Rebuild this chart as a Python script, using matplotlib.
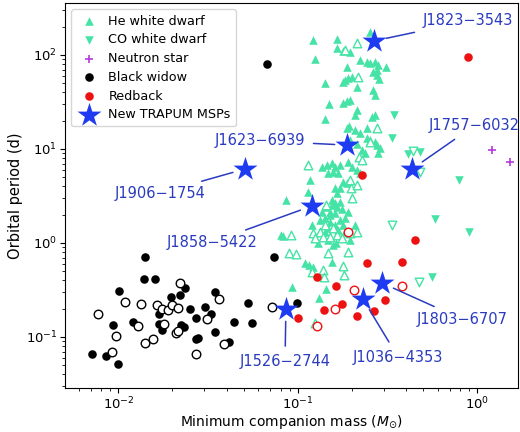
import matplotlib

matplotlib.use("Agg")
import matplotlib.pyplot as plt

# Companion mass (Msun) and orbital period (d)
he_wd_mass = [0.121, 0.165, 0.165, 0.178, 0.195, 0.252, 0.124, 0.222, 0.242, 0.252,
              0.269, 0.279, 0.309, 0.188, 0.276, 0.262, 0.276, 0.283, 0.183, 0.178,
              0.190, 0.200, 0.213, 0.141, 0.262, 0.269, 0.178, 0.188, 0.195, 0.149,
              0.213, 0.208, 0.258, 0.269, 0.141, 0.192, 0.188, 0.208, 0.242,
              0.222, 0.242, 0.252, 0.269, 0.276, 0.286, 0.279, 0.227, 0.236, 0.213,
              0.195, 0.136, 0.145, 0.155, 0.161, 0.171, 0.190, 0.200, 0.147, 0.157,
              0.167, 0.213, 0.222, 0.117, 0.178, 0.188, 0.161, 0.165, 0.171, 0.114,
              0.0857, 0.155, 0.161, 0.171, 0.141,
              0.120, 0.133, 0.141, 0.151, 0.161, 0.165, 0.176, 0.155, 0.171, 0.178,
              0.161, 0.147, 0.141, 0.167, 0.183, 0.151, 0.0804, 0.0825, 0.109, 0.115,
              0.121, 0.155, 0.093, 0.143, 0.131,
              0.151, 0.183, 0.147, 0.163, 0.195, 0.129, 0.208, 0.136, 0.190, 0.157]
he_wd_pb = [145, 148, 119, 110, 108, 176, 91, 88, 84, 82,
            84, 78, 75, 75, 69, 66, 61, 56, 54, 52,
            57, 58, 46, 50, 42, 37.5, 31, 32, 33, 30,
            26, 23, 22, 23, 21, 17.6, 16.7, 15.9, 16.7,
            14.8, 13.1, 12.5, 11.9, 11.0, 10.3, 9.1, 9.8, 9.1, 11.3,
            12.5, 6.4, 6.8, 7.1, 6.4, 6.8, 7.3, 6.4, 5.55, 5.7,
            5.55, 6.0, 5.55, 4.7, 4.46, 4.35, 3.85, 3.4, 3.85, 3.5,
            2.87, 2.87, 2.66, 2.73, 2.42,
            1.55, 1.76, 1.85, 1.99, 2.1, 2.42, 2.30, 2.54, 1.76, 1.55,
            1.55, 1.44, 1.31, 1.37, 1.31, 1.67, 1.22, 1.19, 0.613, 0.583,
            0.556, 0.628, 0.34, 0.324, 0.26,
            2.14, 1.85, 1.08, 1.0, 1.08, 1.0, 1.55, 2.14, 2.14, 0.953]

he_wd_open_mass = [0.183, 0.213, 0.216, 0.276, 0.252, 0.219, 0.227, 0.114, 0.195, 0.197,
                   0.213, 0.200, 0.143, 0.091, 0.089, 0.0975, 0.121, 0.133, 0.138, 0.151,
                   0.165, 0.176, 0.195, 0.213, 0.147, 0.190, 0.120, 0.138, 0.140, 0.178,
                   0.180, 0.124, 0.141, 0.157, 0.124]
he_wd_open_pb = [113, 134, 58, 16.7, 11.9, 8.2, 7.6, 6.8, 4.7, 3.85,
                 4.14, 3.0, 2.54, 1.22, 0.78, 0.764, 1.28, 1.31, 1.16, 1.16,
                 1.22, 1.13, 1.28, 1.31, 0.78, 0.80, 0.49, 0.516, 0.435, 0.57,
                 0.457, 0.141, 1.55, 1.44, 1.13]

co_wd_mass = [0.345, 0.332, 0.408, 0.481, 0.794, 0.583, 0.902, 0.561]
co_wd_pb = [23.0, 13.1, 8.85, 9.29, 4.68, 1.80, 1.31, 0.435]
co_wd_open_mass = [0.440, 0.481, 0.336, 0.475]
co_wd_open_pb = [9.53, 5.69, 1.55, 0.385]

ns_mass = [1.20, 1.51]
ns_pb = [9.76, 7.27]

bw_mass = [0.0141, 0.0138, 0.0159, 0.0101, 0.0236, 0.0221, 0.0197, 0.0343, 0.0249, 0.0305,
           0.0326, 0.0272, 0.0169, 0.0169, 0.0176, 0.0224, 0.0233, 0.0121, 0.00938, 0.0530,
           0.0443, 0.0558, 0.0343, 0.0272, 0.0279, 0.0415, 0.00716, 0.00857, 0.0100, 0.0740,
           0.0994, 0.0676]
bw_pb = [0.71, 0.414, 0.414, 0.308, 0.332, 0.280, 0.267, 0.301, 0.199, 0.209,
         0.176, 0.159, 0.176, 0.138, 0.119, 0.134, 0.128, 0.144, 0.134, 0.230,
         0.144, 0.141, 0.113, 0.0953, 0.0976, 0.0885, 0.0659, 0.0628, 0.0516, 0.710,
         0.230, 80.0]
bw_open_mass = [0.00774, 0.0109, 0.0134, 0.0165, 0.0176, 0.0190, 0.0200, 0.0216, 0.0221, 0.0361,
                0.0128, 0.0180, 0.0208, 0.0216, 0.00975, 0.00926, 0.0140, 0.0155, 0.0313, 0.0385,
                0.0269, 0.0721]
bw_open_pb = [0.176, 0.236, 0.224, 0.219, 0.199, 0.194, 0.219, 0.204, 0.375, 0.254,
              0.131, 0.138, 0.110, 0.116, 0.1025, 0.0692, 0.0863, 0.0953, 0.155, 0.0843,
              0.0659, 0.209]

rb_mass = [0.446, 0.241, 0.378, 0.128, 0.162, 0.307, 0.175, 0.139, 0.214, 0.264, 0.1006, 0.891, 0.226]
rb_pb = [1.08, 0.613, 0.628, 0.435, 0.349, 0.248, 0.224, 0.194, 0.167, 0.189, 0.159, 95.0, 5.3]
rb_open_mass = [0.189, 0.204, 0.160, 0.378, 0.128]
rb_open_pb = [1.31, 0.316, 0.199, 0.349, 0.13]

new_names = ["J1823−3543", "J1623−6939", "J1757−6032", "J1906−1754",
             "J1858−5422", "J1526−2744", "J1036−4353", "J1803−6707"]
new_mass = [0.265, 0.188, 0.432, 0.0507, 0.120, 0.0857, 0.230, 0.294]
new_pb = [141, 11.0, 6.12, 6.12, 2.48, 0.199, 0.254, 0.375]
label_mass = [0.885, 0.0614, 0.956, 0.0170, 0.0332, 0.0847, 0.361, 0.820]
label_pb = [230, 12.2, 17.6, 3.40, 1.02, 0.0542, 0.0612, 0.155]

GREEN = "#45E3A5"
RED = "#EE1111"
PURPLE = "#B43CDC"
STAR = "#1F3BF2"
TEXT_BLUE = "#2A3BC0"

plt.rcParams["font.size"] = 10
fig = plt.figure(figsize=(5.2, 4.32), dpi=100)
ax = fig.add_axes([0.125, 0.102, 0.871, 0.891])

ms = 38
ax.scatter(he_wd_mass, he_wd_pb, marker="^", s=ms, color=GREEN, lw=0, label="He white dwarf")
ax.scatter(he_wd_open_mass, he_wd_open_pb, marker="^", s=ms, facecolors="white",
           edgecolors=GREEN, lw=1)
ax.scatter(co_wd_mass, co_wd_pb, marker="v", s=ms, color=GREEN, lw=0, label="CO white dwarf")
ax.scatter(co_wd_open_mass, co_wd_open_pb, marker="v", s=ms, facecolors="white",
           edgecolors=GREEN, lw=1)
ax.scatter(ns_mass, ns_pb, marker="+", s=30, color=PURPLE, lw=1.2, label="Neutron star")
ax.scatter(bw_mass, bw_pb, marker="o", s=ms, color="black", lw=0, label="Black widow")
ax.scatter(bw_open_mass, bw_open_pb, marker="o", s=ms, facecolors="white",
           edgecolors="black", lw=1)
ax.scatter(rb_mass, rb_pb, marker="o", s=ms, color=RED, lw=0, label="Redback")
ax.scatter(rb_open_mass, rb_open_pb, marker="o", s=ms, facecolors="white",
           edgecolors=RED, lw=1)
ax.scatter(new_mass, new_pb, marker="*", s=330, color=STAR, lw=0, zorder=5,
           label="New TRAPUM MSPs")

for name, x, y, lx, ly in zip(new_names, new_mass, new_pb, label_mass, label_pb):
    ax.annotate(name, xy=(x, y), xytext=(lx, ly), color=TEXT_BLUE, fontsize=10.5,
                ha="center", va="center",
                arrowprops=dict(arrowstyle="-", color=TEXT_BLUE, lw=1.1,
                                shrinkA=4, shrinkB=9))

ax.set_xscale("log")
ax.set_yscale("log")
ax.set_xlim(0.00504, 1.68)
ax.set_ylim(0.0287, 357)
ax.tick_params(axis="both", which="major", labelsize=9.5, pad=2)
ax.set_xlabel(r"Minimum companion mass ($M_{\odot}$)", fontsize=10, labelpad=0.5)
ax.set_ylabel("Orbital period (d)", fontsize=10.5, labelpad=2)
ax.legend(loc="upper left", fontsize=9.2, borderaxespad=0.5, handletextpad=0.5,
          labelspacing=0.45, borderpad=0.4)

fig.savefig("out.png", dpi=100)
